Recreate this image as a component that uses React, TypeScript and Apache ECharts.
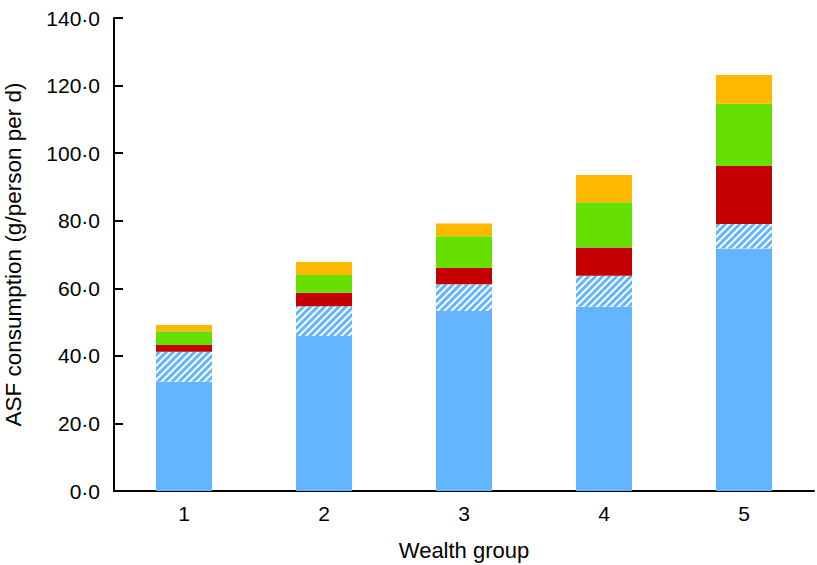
import React, { useEffect, useRef } from "react";
import * as echarts from "echarts";

const categories = ["1", "2", "3", "4", "5"];
const solidBlue = [32.3, 45.9, 53.3, 54.5, 71.8];
const hatchedBlue = [8.9, 8.8, 7.9, 9.2, 7.2];
const redPart = [2.0, 4.0, 4.8, 8.4, 17.2];
const greenPart = [4.1, 5.2, 9.4, 13.4, 18.4];
const orangePart = [1.8, 3.9, 3.8, 8.0, 8.5];

const FONT = "'Liberation Sans', Arial, Helvetica, sans-serif";

export default function App() {
  const ref = useRef<HTMLDivElement>(null);
  useEffect(() => {
    if (!ref.current) return;
    const chart = echarts.init(ref.current, null, { renderer: "svg" });
    const base = {
      type: "bar",
      stack: "total",
      barWidth: "40%",
      emphasis: { disabled: true },
    };
    chart.setOption({
      animation: false,
      textStyle: { fontFamily: FONT },
      grid: {
        left: 114,
        right: 3,
        top: 18,
        bottom: 74,
        containLabel: false,
        outerBoundsMode: "none",
      },
      xAxis: {
        type: "category",
        data: categories,
        name: "Wealth group",
        nameLocation: "middle",
        nameGap: 48,
        nameTextStyle: { fontSize: 22, color: "#000", fontFamily: FONT },
        axisLine: { lineStyle: { color: "#000", width: 2 } },
        axisTick: { inside: true, length: 8, lineStyle: { color: "#000", width: 2 } },
        axisLabel: { fontSize: 21, color: "#000", margin: 12, fontFamily: FONT },
      },
      yAxis: {
        type: "value",
        min: 0,
        max: 140,
        interval: 20,
        name: "ASF consumption (g/person per d)",
        nameLocation: "middle",
        nameGap: 89,
        nameTextStyle: { fontSize: 22.5, color: "#000", fontFamily: FONT },
        axisLine: { show: true, lineStyle: { color: "#000", width: 2 } },
        axisTick: { show: true, inside: true, length: 9, lineStyle: { color: "#000", width: 2 } },
        splitLine: { show: false },
        axisLabel: {
          fontSize: 21,
          color: "#000",
          margin: 14,
          fontFamily: FONT,
          formatter: (v: number) => v.toFixed(1).replace(".", "\u00b7"),
        },
      },
      series: [
        { ...base, name: "solid", data: solidBlue, itemStyle: { color: "#64b5ff" } },
        {
          ...base,
          name: "hatched",
          data: hatchedBlue,
          itemStyle: {
            color: "#ffffff",
            decal: {
              symbol: "rect",
              color: "#64b5ff",
              dashArrayX: [1, 0],
              dashArrayY: [2.2, 2],
              rotation: -Math.PI / 4,
            },
          },
        },
        { ...base, name: "red", data: redPart, itemStyle: { color: "#c40000" } },
        { ...base, name: "green", data: greenPart, itemStyle: { color: "#66e000" } },
        { ...base, name: "orange", data: orangePart, itemStyle: { color: "#ffb800" } },
      ],
    });
    return () => chart.dispose();
  }, []);
  return <div ref={ref} style={{ width: 817, height: 565, position: "absolute", left: 0, top: 0 }} />;
}
